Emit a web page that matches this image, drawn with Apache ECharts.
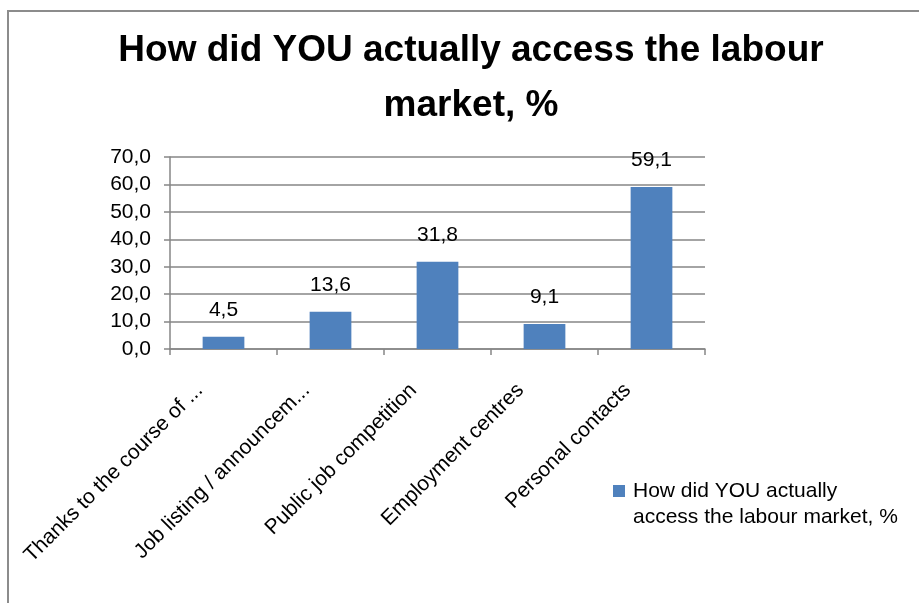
<!DOCTYPE html>
<html>
<head>
<meta charset="utf-8">
<script src="https://cdn.jsdelivr.net/npm/echarts@6/dist/echarts.min.js"></script>
<style>
  html, body { margin: 0; padding: 0; background: #fff; }
  #frame { position: absolute; left: 7px; top: 10px; width: 940px; height: 620px; border: 2px solid #8c8c8c; box-sizing: border-box; }
  #chart { position: absolute; left: 0; top: 0; width: 919px; height: 603px; }
</style>
</head>
<body>
<div id="frame"></div>
<div id="chart"></div>
<script>
// Survey answers: how respondents actually got into the labour market
const categories = [
  'Thanks to the course of ...',
  'Job listing / announcem...',
  'Public job competition',
  'Employment centres',
  'Personal contacts'
];
const values = [4.5, 13.6, 31.8, 9.1, 59.1];
const seriesName = 'How did YOU actually access the labour market, %';
const titleText = 'How did YOU actually access the labour\nmarket, %';
const legendText = 'How did YOU actually\naccess the labour market, %';
const yTicks = { min: 0, max: 70, interval: 10 };

const fmt = v => Number(v).toFixed(1).replace('.', ',');
const FONT = '"Liberation Sans", Arial, sans-serif';
const AXIS_GREY = '#868686';

const chart = echarts.init(document.getElementById('chart'), null, { renderer: 'canvas' });
chart.setOption({
  animation: false,
  backgroundColor: 'transparent',
  title: {
    text: titleText,
    left: 466,
    top: 18,
    textAlign: 'center',
    textStyle: { fontFamily: FONT, fontWeight: 'bold', fontSize: 37, color: '#000', lineHeight: 55 }
  },
  legend: {
    data: [seriesName],
    left: 613,
    top: 478,
    padding: 0,
    orient: 'vertical',
    // square sits beside the first of the two text lines
    icon: 'path://M0,7L12,7L12,19L0,19Z M0,0L0,0 M15,52L15,52',
    itemWidth: 15,
    itemHeight: 52,
    itemGap: 8,
    formatter: () => legendText,
    textStyle: { fontFamily: FONT, fontSize: 21, color: '#000', lineHeight: 26 }
  },
  grid: { left: 170, right: 214, top: 157, bottom: 254, containLabel: false },
  xAxis: {
    type: 'category',
    data: categories,
    axisLine: { lineStyle: { color: AXIS_GREY, width: 1.5 } },
    axisTick: { show: true, length: 6, alignWithLabel: false, lineStyle: { color: AXIS_GREY, width: 1.5 } },
    axisLabel: {
      rotate: 45, margin: 14, interval: 0,
      padding: [0, 34, 0, 0],
      fontFamily: FONT, fontSize: 21, color: '#000'
    }
  },
  yAxis: {
    type: 'value',
    min: yTicks.min,
    max: yTicks.max,
    interval: yTicks.interval,
    axisLine: { show: true, lineStyle: { color: AXIS_GREY, width: 1.5 } },
    axisTick: { show: true, length: 6, lineStyle: { color: AXIS_GREY, width: 1.5 } },
    splitLine: { lineStyle: { color: AXIS_GREY, width: 1.5 } },
    axisLabel: { formatter: fmt, margin: 19, fontFamily: FONT, fontSize: 21, color: '#000' }
  },
  series: [{
    name: seriesName,
    type: 'bar',
    data: values,
    barWidth: '39%',
    itemStyle: { color: '#4F81BD' },
    label: {
      show: true,
      position: 'top',
      distance: 16,
      formatter: p => fmt(p.value),
      fontFamily: FONT,
      fontSize: 21,
      color: '#000'
    }
  }]
});
</script>
</body>
</html>
